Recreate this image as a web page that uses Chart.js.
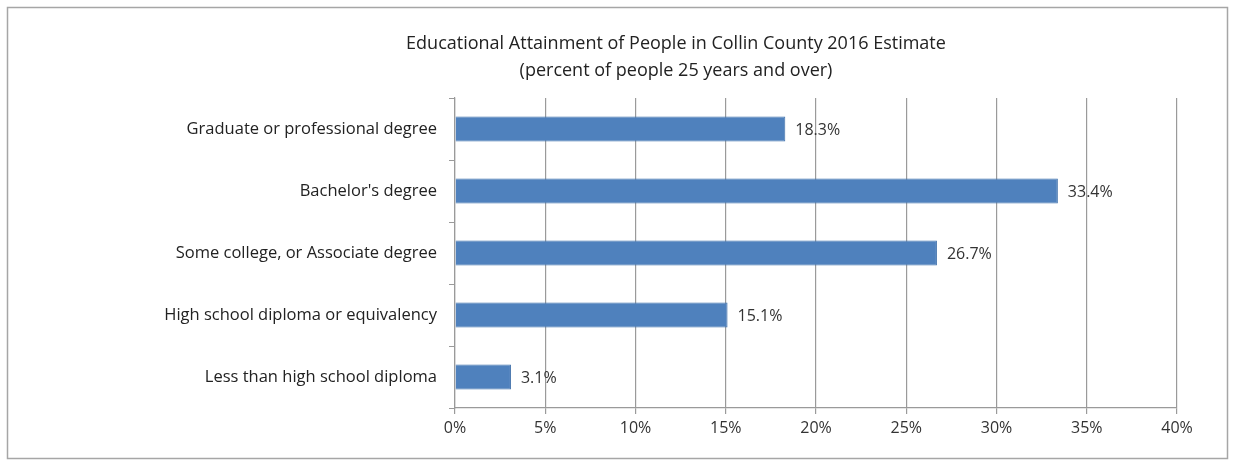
<!DOCTYPE html>
<html><head><meta charset="utf-8">
<script src="https://cdn.jsdelivr.net/npm/chart.js@4"></script>
<style>html,body{margin:0;padding:0;background:#fff}#c{display:block}</style>
</head><body>
<canvas id="c" width="1233" height="460"></canvas>
<script>
const categories = ["Graduate or professional degree","Bachelor's degree","Some college, or Associate degree","High school diploma or equivalency","Less than high school diploma"];
const values = [18.3, 33.4, 26.7, 15.1, 3.1];
const titleLines = ["Educational Attainment of People in Collin County 2016 Estimate","(percent of people 25 years and over)"];
const FONT = "'Open Sans', 'Noto Sans', sans-serif";

const framePlugin = {
  id: 'frame',
  beforeDraw(chart){
    const ctx = chart.ctx;
    ctx.save();
    ctx.fillStyle = '#fff';
    ctx.fillRect(0,0,chart.width,chart.height);
    ctx.strokeStyle = '#a6a6a6';
    ctx.lineWidth = 1.5;
    ctx.strokeRect(7.5,7.5,1220,451);
    ctx.restore();
  },
  afterDraw(chart){
    const ctx = chart.ctx;
    ctx.save();
    ctx.fillStyle = '#222';
    ctx.font = "18px " + FONT;
    ctx.textAlign = 'center';
    ctx.textBaseline = 'middle';
    ctx.fillText(titleLines[0], 676, 44);
    ctx.fillText(titleLines[1], 676, 71);
    // data labels
    const meta = chart.getDatasetMeta(0);
    ctx.font = "16px " + FONT;
    ctx.textAlign = 'left';
    ctx.fillStyle = '#333';
    meta.data.forEach((bar, i) => {
      ctx.fillText(values[i].toFixed(1) + '%', bar.x + 10, bar.y + 1);
    });
    ctx.restore();
  }
};

new Chart(document.getElementById('c'), {
  type: 'bar',
  data: {
    labels: categories,
    datasets: [{
      data: values,
      backgroundColor: '#4f81bd',
      borderColor: '#3f70aa',
      borderWidth: 1,
      barPercentage: 0.4,
      categoryPercentage: 1.0
    }]
  },
  options: {
    indexAxis: 'y',
    responsive: false,
    animation: false,
    layout: { padding: { top: 98, right: 56, bottom: 0, left: 0 } },
    plugins: { legend: { display: false }, title: { display: false }, tooltip: { enabled: false } },
    scales: {
      x: {
        min: 0, max: 40,
        ticks: { stepSize: 5, callback: v => v + '%', color: '#333', font: { family: FONT, size: 16 }, padding: 5 },
        grid: { color: '#9a9a9a', lineWidth: 1.2, tickLength: 6, drawTicks: true },
        border: { color: '#9a9a9a', width: 1.2 },
        afterFit(scale){ scale.height = 52; }
      },
      y: {
        ticks: { color: '#222', font: { family: FONT, size: 16.5 }, padding: 12 },
        grid: { offset: true, drawOnChartArea: false, color: '#9a9a9a', tickLength: 6 },
        border: { color: '#9a9a9a', width: 1.2 },
        afterFit(scale){ scale.width = 455; }
      }
    }
  },
  plugins: [framePlugin]
});
</script>
</body></html>
